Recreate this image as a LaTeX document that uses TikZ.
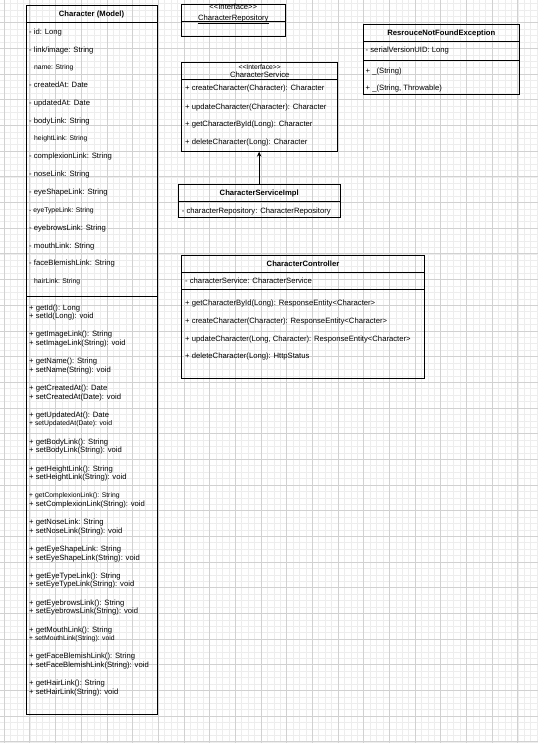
\documentclass[tikz,border=0pt]{standalone}
\usepackage{fontspec}
\setmainfont{Liberation Sans}
\usetikzlibrary{arrows.meta}
\begin{document}
\begin{tikzpicture}[x=1pt,y=-1pt,
  box/.style={draw=black, line width=0.8pt, anchor=north west, inner sep=0pt, outer sep=0pt},
  sepline/.style={draw=black, line width=0.8pt},
  txt/.style={anchor=base west, inner sep=0pt, font=\fontsize{7.68}{9}\selectfont},
  sml/.style={anchor=base west, inner sep=0pt, font=\fontsize{6.8}{8}\selectfont},
  ttl/.style={anchor=base, inner sep=0pt, font=\fontsize{7.68}{9}\selectfont\bfseries},
  ctr/.style={anchor=base, inner sep=0pt, font=\fontsize{7.68}{9}\selectfont},
  minorgrid/.style={draw=black!7, line width=0.4pt},
  majorgrid/.style={draw=black!18, line width=0.6pt},
  arr/.style={draw=black, line width=0.8pt, -{Stealth[length=5pt,width=4.5pt]}}
]
\useasboundingbox (0,0) rectangle (538,743);
\fill[white] (0,0) rectangle (538,743);
% grid
\foreach \i in {0,...,83} \draw[minorgrid] ({4.1+6.42*\i},0) -- ({4.1+6.42*\i},743);
\foreach \i in {0,...,115} \draw[minorgrid] (0,{3.4+6.42*\i}) -- (538,{3.4+6.42*\i});
\foreach \i in {0,...,20} \draw[majorgrid] ({4.1+25.68*\i},0) -- ({4.1+25.68*\i},743);
\foreach \i in {1,...,29} \draw[majorgrid] (0,{-3.02+25.68*\i}) -- (538,{-3.02+25.68*\i});

% ---------------- Character (Model)
\node[box, minimum width=131, minimum height=709] (character) at (26,5) {};
\draw[sepline] (26,22) -- (157,22);
\draw[sepline] (26,296) -- (157,296);
\node[ttl] (charT) at (91.5,16.2) {Character (Model)};
\node[txt] (a1) at (29,34.4) {- id: Long};
\node[txt] (a2) at (29,52.2) {- link/image: String};
\node[sml] (a3) at (34,69.7) {name: String};
\node[txt] (a4) at (29,87.8) {- createdAt: Date};
\node[txt] (a5) at (29,105.6) {- updatedAt: Date};
\node[txt] (a6) at (29,123.4) {- bodyLink: String};
\node[sml] (a7) at (34,140.9) {heightLink: String};
\node[txt] (a8) at (29,159.0) {- complexionLink: String};
\node[txt] (a9) at (29,176.8) {- noseLink: String};
\node[txt] (a10) at (29,194.6) {- eyeShapeLink: String};
\node[sml] (a11) at (29,212.1) {- eyeTypeLink: String};
\node[txt] (a12) at (29,230.2) {- eyebrowsLink: String};
\node[txt] (a13) at (29,248.0) {- mouthLink: String};
\node[txt] (a14) at (29,265.8) {- faceBlemishLink: String};
\node[sml] (a15) at (34,283.3) {hairLink: String};

\node[txt] (g1) at (29,310.0) {+ getId(): Long};
\node[txt] (s1) at (29,318.5) {+ setId(Long): void};
\node[txt] (g2) at (29,336.8) {+ getImageLink(): String};
\node[txt] (s2) at (29,345.3) {+ setImageLink(String): void};
\node[txt] (g3) at (29,363.7) {+ getName(): String};
\node[txt] (s3) at (29,372.2) {+ setName(String): void};
\node[txt] (g4) at (29,390.5) {+ getCreatedAt(): Date};
\node[txt] (s4) at (29,399.0) {+ setCreatedAt(Date): void};
\node[txt] (g5) at (29,417.4) {+ getUpdatedAt(): Date};
\node[sml] (s5) at (29,425.6) {+ setUpdatedAt(Date): void};
\node[txt] (g6) at (29,444.2) {+ getBodyLink(): String};
\node[txt] (s6) at (29,452.7) {+ setBodyLink(String): void};
\node[txt] (g7) at (29,471.0) {+ getHeightLink(): String};
\node[txt] (s7) at (29,479.5) {+ setHeightLink(String): void};
\node[sml] (g8) at (29,497.6) {+ getComplexionLink(): String};
\node[txt] (s8) at (29,506.4) {+ setComplexionLink(String): void};
\node[txt] (g9) at (29,524.7) {+ getNoseLink: String};
\node[txt] (s9) at (29,533.2) {+ setNoseLink(String): void};
\node[txt] (g10) at (29,551.6) {+ getEyeShapeLink: String};
\node[txt] (s10) at (29,560.1) {+ setEyeShapeLink(String): void};
\node[txt] (g11) at (29,578.4) {+ getEyeTypeLink(): String};
\node[txt] (s11) at (29,586.9) {+ setEyeTypeLink(String): void};
\node[txt] (g12) at (29,605.2) {+ getEyebrowsLink(): String};
\node[txt] (s12) at (29,613.7) {+ setEyebrowsLink(String): void};
\node[txt] (g13) at (29,632.1) {+ getMouthLink(): String};
\node[sml] (s13) at (29,640.3) {+ setMouthLink(String): void};
\node[txt] (g14) at (29,658.9) {+ getFaceBlemishLink(): String};
\node[txt] (s14) at (29,667.4) {+ setFaceBlemishLink(String): void};
\node[txt] (g15) at (29,685.8) {+ getHairLink(): String};
\node[txt] (s15) at (29,694.3) {+ setHairLink(String): void};

% ---------------- CharacterRepository
\node[box, minimum width=103.3, minimum height=32] (repo) at (181.7,4.7) {};
\draw[sepline] (181.7,21.3) -- (285,21.3);
\node[ctr] (repoS) at (233.3,10.0) {<{}<Interface>{}>};
\node[ctr] (repoT) at (233.3,20.2) {\underline{CharacterRepository}};

% ---------------- CharacterService
\node[box, minimum width=156, minimum height=89.4] (service) at (181.7,62.3) {};
\draw[sepline] (181.7,79.3) -- (337.7,79.3);
\node[ctr, font=\fontsize{6.8}{8}\selectfont] (servS) at (259.7,69.6) {<{}<Interface>{}>};
\node[ctr] (servT) at (259.7,78.0) {\underline{CharacterService}};
\node[txt] (sm1) at (185,91.0) {+ createCharacter(Character): Character};
\node[txt] (sm2) at (185,109.4) {+ updateCharacter(Character): Character};
\node[txt] (sm3) at (185,127.0) {+ getCharacterById(Long): Character};
\node[txt] (sm4) at (185,144.4) {+ deleteCharacter(Long): Character};

% ---------------- CharacterServiceImpl
\node[box, minimum width=161.7, minimum height=33.3] (impl) at (178.3,184) {};
\draw[sepline] (178.3,201.7) -- (340,201.7);
\node[ttl] (implT) at (259.2,196.0) {CharacterServiceImpl};
\node[txt] (implA) at (181.7,213.4) {- characterRepository: CharacterRepository};

\draw[arr] (impl.north) -- (impl.north |- service.south);

% ---------------- ResrouceNotFoundException
\node[box, minimum width=156, minimum height=70] (exc) at (363.3,24.3) {};
\draw[sepline] (363.3,41) -- (519.3,41);
\draw[sepline] (363.3,60) -- (519.3,60);
\node[ttl] (excT) at (441.3,36.0) {ResrouceNotFoundException};
\node[txt] (excA) at (365.5,53.0) {- serialVersionUID: Long};
\node[txt] (excM1) at (365.5,73.7) {+ \_(String)};
\node[txt] (excM2) at (365.5,91.0) {+ \_(String, Throwable)};

% ---------------- CharacterController
\node[box, minimum width=242.6, minimum height=122.6] (ctrl) at (181.7,255.7) {};
\draw[sepline] (181.7,272.7) -- (424.3,272.7);
\draw[sepline] (181.7,289.3) -- (424.3,289.3);
\node[ttl] (ctrlT) at (303,266.7) {CharacterController};
\node[txt] (ctrlA) at (185,283.4) {- characterService: CharacterService};
\node[txt] (cm1) at (185,305.0) {+ getCharacterById(Long): ResponseEntity<Character>};
\node[txt] (cm2) at (185,323.4) {+ createCharacter(Character): ResponseEntity<Character>};
\node[txt] (cm3) at (185,341.4) {+ updateCharacter(Long, Character): ResponseEntity<Character>};
\node[txt] (cm4) at (185,358.7) {+ deleteCharacter(Long): HttpStatus};
\end{tikzpicture}
\end{document}
